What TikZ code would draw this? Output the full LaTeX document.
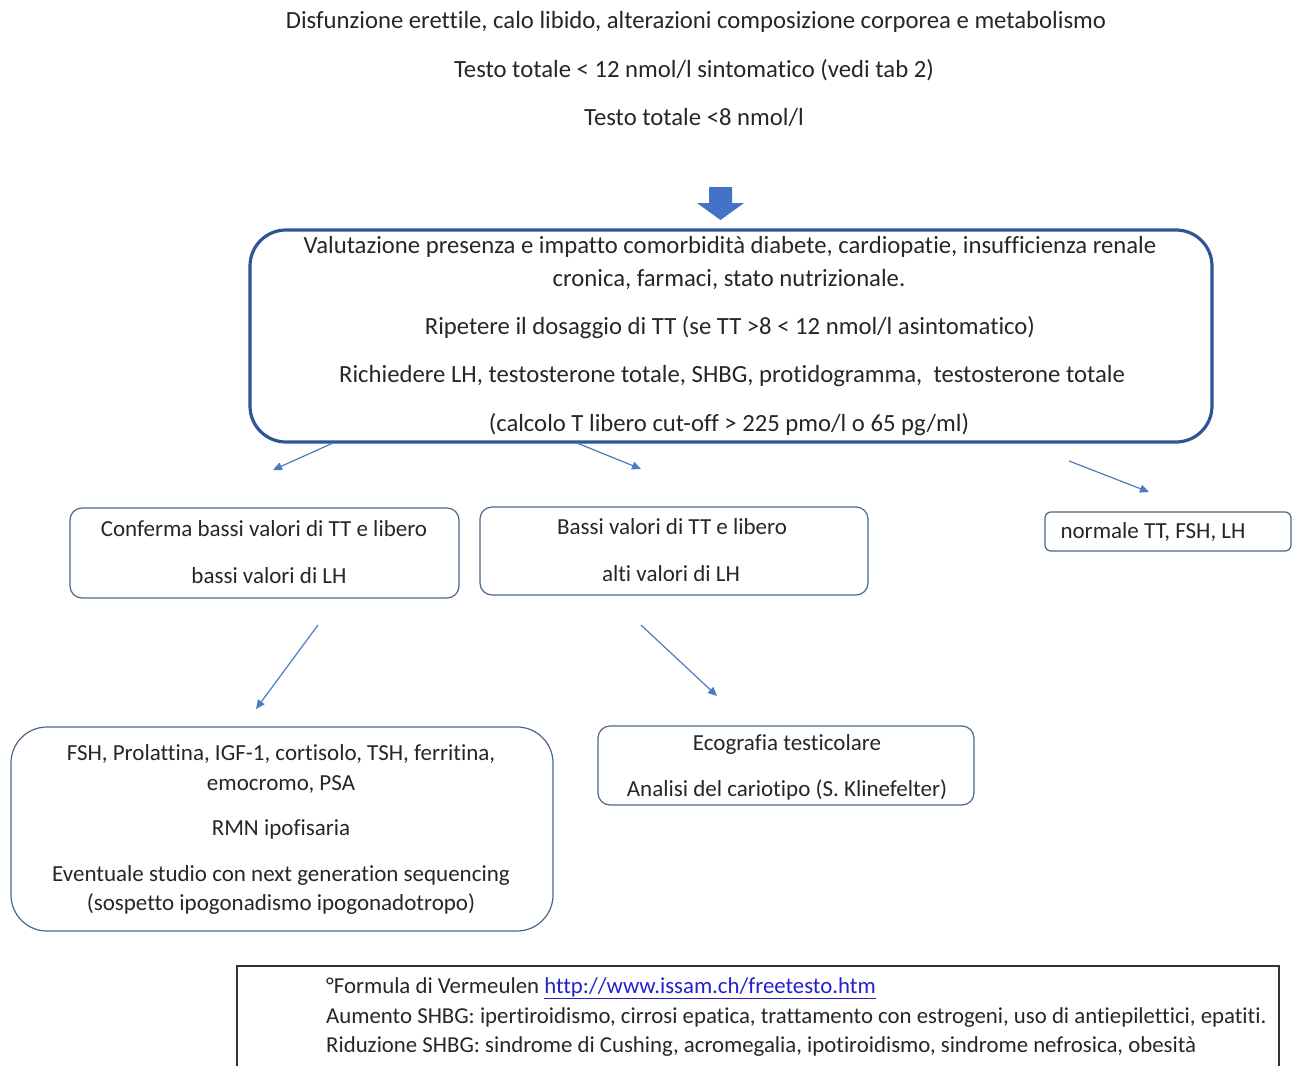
\documentclass[tikz,border=0pt]{standalone}
\usepackage{fontspec}
\setmainfont[Ligatures=NoCommon]{Carlito}
\usetikzlibrary{arrows.meta}
\definecolor{txt}{HTML}{262626}
\definecolor{bigblue}{HTML}{2F5597}
\definecolor{boxline}{HTML}{4A6688}
\definecolor{arr}{HTML}{4A7CC0}
\definecolor{blockblue}{HTML}{4472C4}
\definecolor{linkblue}{HTML}{2222CC}
\begin{document}
\begin{tikzpicture}[x=1pt,y=-1pt,
  every node/.style={text=txt,inner sep=0pt,font=\fontsize{24.7}{28}\selectfont},
  line/.style={anchor=center,text height=0.72em,text depth=0.26em,yshift=-5pt},
  smalltxt/.style={font=\fontsize{23}{27}\selectfont},
  notetxt/.style={anchor=west,text height=0.72em,text depth=0.26em,yshift=-5pt,font=\fontsize{22.8}{26}\selectfont},
  bigbox/.style={draw=bigblue,line width=3.2pt,rounded corners=36pt,minimum width=962pt,minimum height=212pt},
  thinbox/.style={draw=boxline,line width=1.2pt,rounded corners=12pt},
  bigrbox/.style={draw=boxline,line width=1.2pt,rounded corners=36pt},
  conn/.style={draw=arr,line width=1.2pt,-{Triangle[width=8pt,length=9pt]}}
]
\useasboundingbox (0,0) rectangle (1294,1066);
\clip (0,0) rectangle (1294,1066);

% top texts
\node[line] (t1) at (696,21) {Disfunzione erettile, calo libido, alterazioni composizione corporea e metabolismo};
\node[line] (t2) at (694,70) {Testo totale < 12 nmol/l sintomatico (vedi tab 2)};
\node[line] (t3) at (694,118) {Testo totale <8 nmol/l};

% block arrow
\fill[blockblue] (709,187) -- (732,187) -- (732,203) -- (744,203) -- (720.5,220) -- (697,203) -- (709,203) -- cycle;

% big box
\node[bigbox] (big) at (731,336) {};
\node[line] (b1) at (730,246) {Valutazione presenza e impatto comorbidità diabete, cardiopatie, insufficienza renale};
\node[line] (b2) at (729,279) {cronica, farmaci, stato nutrizionale.};
\node[line] (b3) at (730,327) {Ripetere il dosaggio di TT (se TT >8 < 12 nmol/l asintomatico)};
\node[line] (b4) at (732,375) {Richiedere LH, testosterone totale, SHBG, protidogramma,\ \ testosterone totale};
\node[line] (b5) at (729,424) {(calcolo T libero cut-off > 225 pmo/l o 65 pg/ml)};

% arrows from big box
\coordinate (a1s) at (333,443); \coordinate (a1e) at (273,470);
\coordinate (a2s) at (577,443); \coordinate (a2e) at (641,469);
\coordinate (a3s) at (1069,461); \coordinate (a3e) at (1149,492);
\draw[conn] (a1s) -- (a1e);
\draw[conn] (a2s) -- (a2e);
\draw[conn] (a3s) -- (a3e);

% second row boxes
\node[thinbox,minimum width=389pt,minimum height=90pt] (boxA) at (264.5,553) {};
\node[line,smalltxt] (A1) at (264,529) {Conferma bassi valori di TT e libero};
\node[line,smalltxt] (A2) at (269,576) {bassi valori di LH};

\node[thinbox,minimum width=388pt,minimum height=88pt] (boxB) at (674,551) {};
\node[line,smalltxt] (B1) at (672,527) {Bassi valori di TT e libero};
\node[line,smalltxt] (B2) at (671,574) {alti valori di LH};

\node[thinbox,rounded corners=6pt,minimum width=246pt,minimum height=39pt] (boxC) at (1168,531.5) {};
\node[line,smalltxt] (C1) at (1153,531) {normale TT, FSH, LH};

% arrows from second row
\coordinate (a4s) at (318,625); \coordinate (a4e) at (256,709);
\coordinate (a5s) at (641,625); \coordinate (a5e) at (717,696);
\draw[conn] (a4s) -- (a4e);
\draw[conn] (a5s) -- (a5e);

% third row boxes
\node[bigrbox,minimum width=542pt,minimum height=204pt] (boxD) at (282,829) {};
\node[line,smalltxt] (D1) at (281,753) {FSH, Prolattina, IGF-1, cortisolo, TSH, ferritina,};
\node[line,smalltxt] (D2) at (281,783) {emocromo, PSA};
\node[line,smalltxt] (D3) at (281,828) {RMN ipofisaria};
\node[line,smalltxt] (D4) at (281,874) {Eventuale studio con next generation sequencing};
\node[line,smalltxt] (D5) at (281,903) {(sospetto ipogonadismo ipogonadotropo)};

\node[thinbox,minimum width=376pt,minimum height=79pt] (boxE) at (786,765.5) {};
\node[line,smalltxt] (E1) at (787,743) {Ecografia testicolare};
\node[line,smalltxt] (E2) at (787,789) {Analisi del cariotipo (S. Klinefelter)};

% note box
\draw[draw=black!80,line width=1.6pt] (237,966) rectangle (1279,1090);
\node[notetxt] (N1) at (326,986) {°Formula di Vermeulen \textcolor{linkblue}{\underline{http://www.issam.ch/freetesto.htm}}};
\node[notetxt] (N2) at (326,1016) {Aumento SHBG: ipertiroidismo, cirrosi epatica, trattamento con estrogeni, uso di antiepilettici, epatiti.};
\node[notetxt] (N3) at (326,1045) {Riduzione SHBG: sindrome di Cushing, acromegalia, ipotiroidismo, sindrome nefrosica, obesità};
\end{tikzpicture}
\end{document}
